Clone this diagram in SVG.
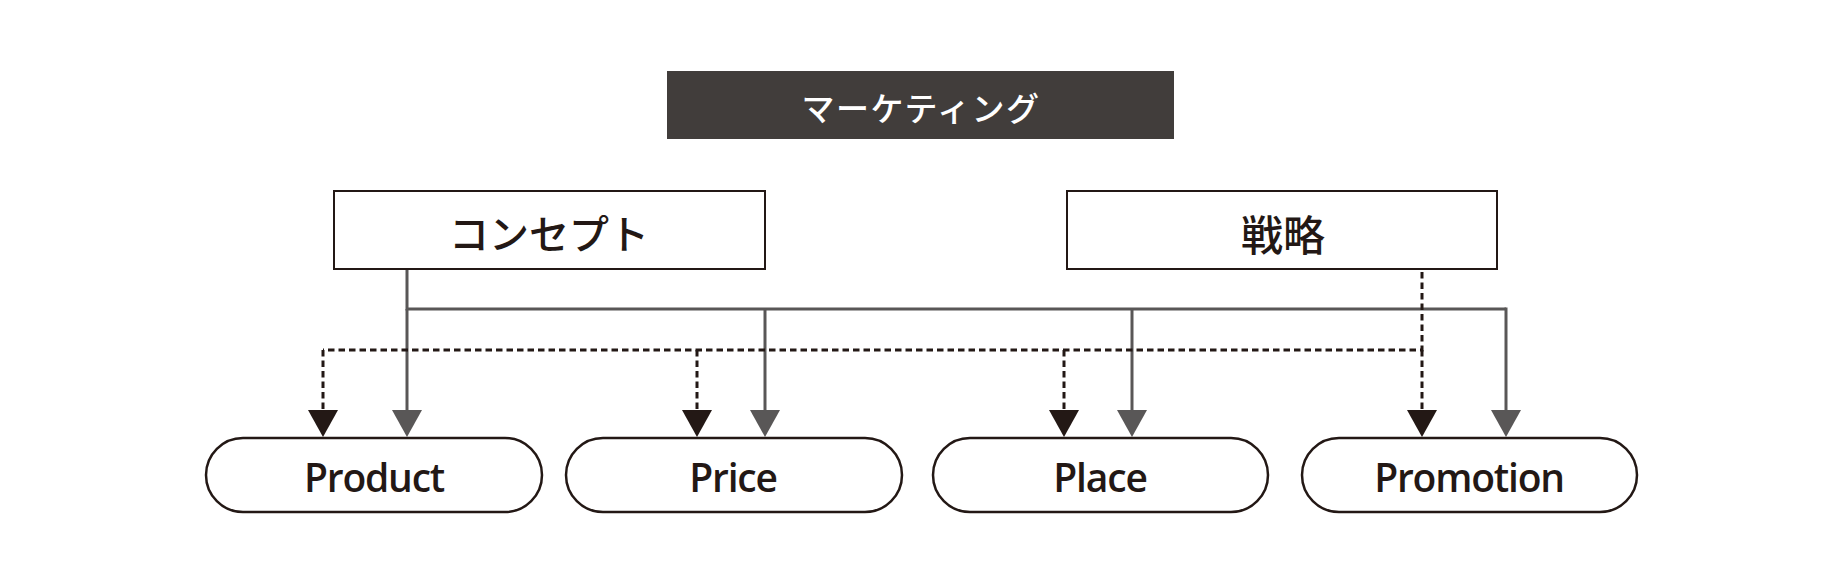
<svg xmlns="http://www.w3.org/2000/svg" width="1842" height="587" viewBox="0 0 1842 587">
<style>
.bg{fill:#ffffff}
.top{fill:#413d3b}
.box{fill:#ffffff;stroke:#231815;stroke-width:2}
.pill{fill:#ffffff;stroke:#231815;stroke-width:2.5}
.jp{font-family:"Noto Sans CJK JP","Noto Sans",sans-serif;text-anchor:middle;dominant-baseline:central;font-weight:500}
.en{font-family:"Open Sans","Noto Sans",sans-serif;font-size:39px;font-weight:600;fill:#231815;text-anchor:middle;letter-spacing:-1.2px}
.solid{fill:none;stroke:#595757;stroke-width:3;marker-end:url(#ag)}
.solidn{fill:none;stroke:#595757;stroke-width:3}
.dash{fill:none;stroke:#231815;stroke-width:3;stroke-dasharray:6.5 4;marker-end:url(#ak)}
.dashn{fill:none;stroke:#231815;stroke-width:3;stroke-dasharray:6.5 4}
</style>
<defs>
<marker id="ag" markerUnits="userSpaceOnUse" markerWidth="28" markerHeight="31" refX="0" refY="15" orient="auto" viewBox="0 0 28 31">
<path d="M0,0 L27,15 L0,30 Z" fill="#595757"/>
</marker>
<marker id="ak" markerUnits="userSpaceOnUse" markerWidth="28" markerHeight="31" refX="0" refY="15" orient="auto" viewBox="0 0 28 31">
<path d="M0,0 L27,15 L0,30 Z" fill="#231815"/>
</marker>
</defs>
<rect class="bg" x="0" y="0" width="1842" height="587"/>
<g id="marketing">
<rect class="top" x="667" y="71" width="507" height="68"/>
<text class="jp" x="921" y="107" font-size="33" fill="#ffffff" letter-spacing="1.5">マーケティング</text>
</g>
<g id="concept">
<rect class="box" x="334" y="191" width="431" height="78"/>
<text class="jp" x="549" y="232" font-size="40" fill="#231815">コンセプト</text>
</g>
<g id="strategy">
<rect class="box" x="1067" y="191" width="430" height="78"/>
<text class="jp" x="1283" y="232" font-size="42" fill="#231815">戦略</text>
</g>
<g id="connectors">
<path class="solidn" d="M407,270 V309 M405.5,309 H1506"/>
<path class="solid" d="M407,309 V410"/>
<path class="solid" d="M765,309 V410"/>
<path class="solid" d="M1132,309 V410"/>
<path class="solid" d="M1506,307.5 V410"/>
<path class="dashn" d="M1422,272 V350 H323"/>
<path class="dash" d="M1422,350 V410"/>
<path class="dash" d="M323,350 V410"/>
<path class="dash" d="M697,350 V410"/>
<path class="dash" d="M1064,350 V410"/>
</g>
<g id="product">
<rect class="pill" x="206" y="438" width="336" height="74" rx="37" ry="37"/>
<text class="en" x="374" y="492">Product</text>
</g>
<g id="price">
<rect class="pill" x="566" y="438" width="336" height="74" rx="37" ry="37"/>
<text class="en" x="733" y="492">Price</text>
</g>
<g id="place">
<rect class="pill" x="933" y="438" width="335" height="74" rx="37" ry="37"/>
<text class="en" x="1100" y="492">Place</text>
</g>
<g id="promotion">
<rect class="pill" x="1302" y="438" width="335" height="74" rx="37" ry="37"/>
<text class="en" x="1469" y="492">Promotion</text>
</g>
</svg>
